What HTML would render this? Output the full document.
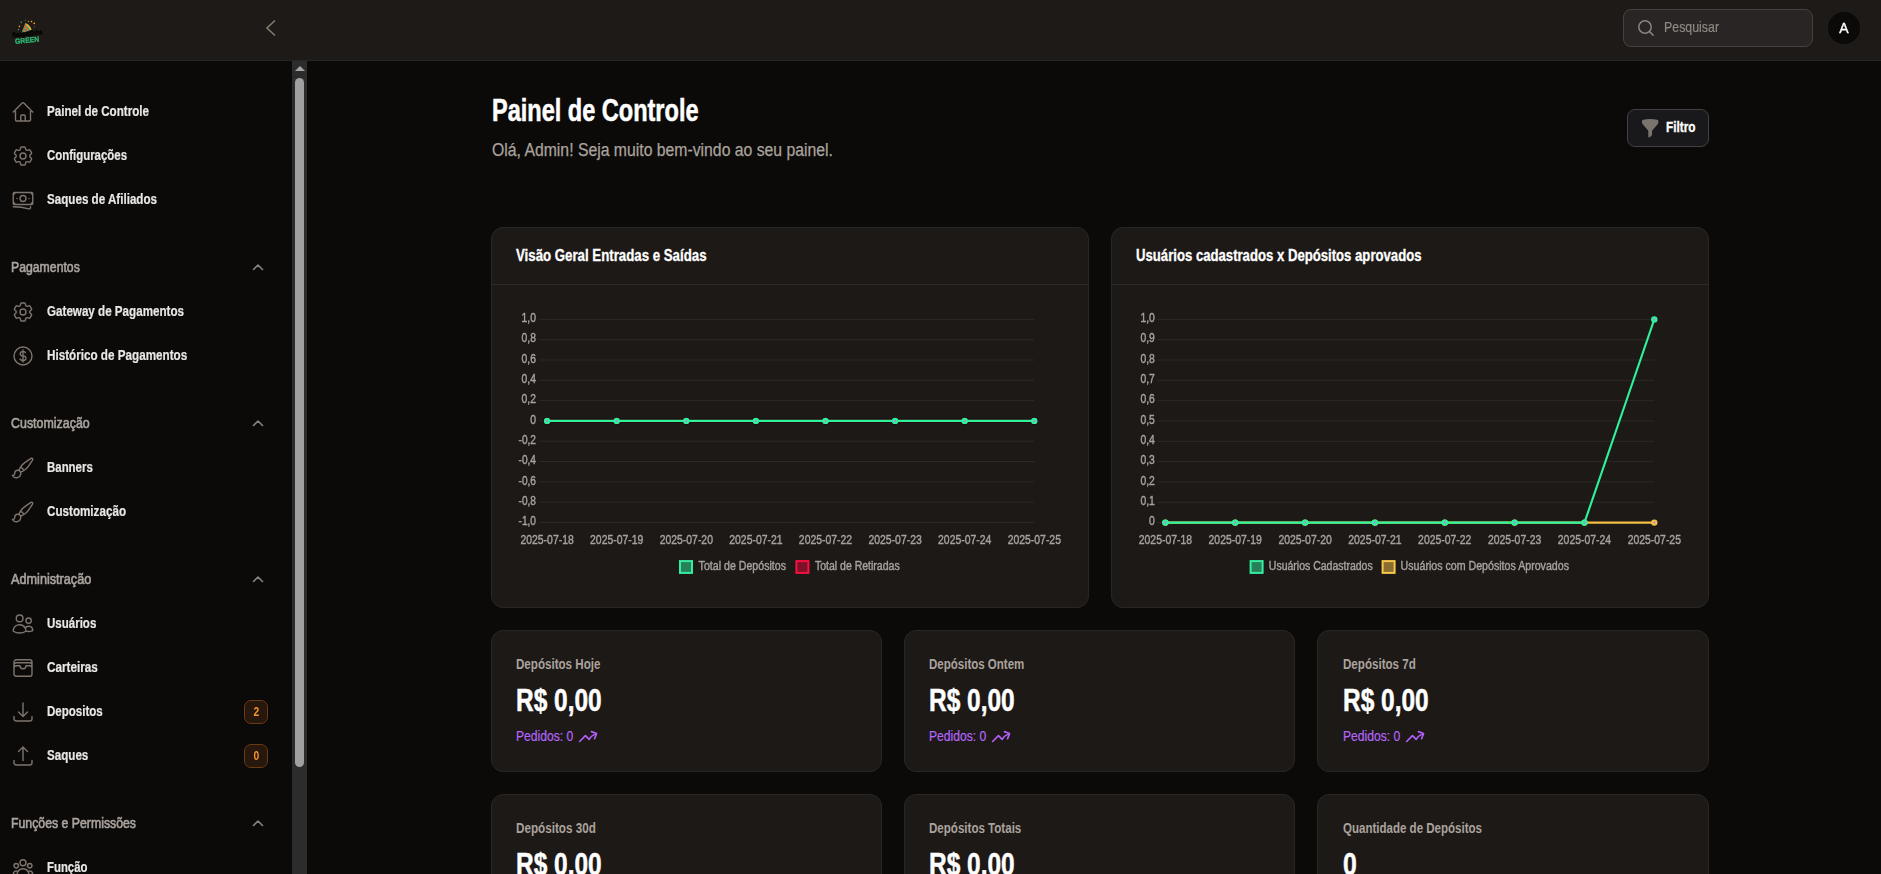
<!DOCTYPE html>
<html lang="pt-BR">
<head>
<meta charset="utf-8">
<title>Painel de Controle</title>
<style>
*{box-sizing:border-box;margin:0;padding:0}
html,body{width:1881px;height:874px;overflow:hidden;background:#0c0a09}
body{font-family:"Liberation Sans",sans-serif;color:#fff;position:relative}
.t{display:inline-block;white-space:nowrap;transform-origin:0 50%}
.t.r{transform-origin:100% 50%}
.t.c{transform-origin:50% 50%}
svg{display:block;overflow:visible}
/* ---------- top bar ---------- */
.topbg{position:absolute;left:0;top:0;width:1881px;height:61px;background:#1e1a17;border-bottom:1px solid #292523}
.topbar{position:absolute;left:0;top:0;width:1881px;height:61px;will-change:transform;z-index:5}
.logo{position:absolute;left:0;top:0}
.collapse{position:absolute;left:263px;top:18px;width:16px;height:20px}
.search{position:absolute;left:1623px;top:9px;width:190px;height:38px;border:1px solid #47423e;border-radius:8px;background:#292524}
.search svg{position:absolute;left:12px;top:8px}
.search .t{position:absolute;left:40px;top:0;line-height:35px;font-size:14.5px;color:#8f8983;-webkit-text-stroke:.2px #8f8983}
.avatar{position:absolute;left:1828px;top:12px;width:32px;height:32px;border-radius:50%;background:#0c0a09;text-align:center;line-height:33px;font-size:14px;font-weight:400;color:#fff;-webkit-text-stroke:.35px #fff}
/* ---------- sidebar ---------- */
.sidebar{position:absolute;left:0;top:61px;width:292px;height:813px;will-change:transform}
.nav{position:absolute;left:0;width:292px;height:44px}
.nav svg{position:absolute;left:11px;top:10.8px;width:24px;height:24px;fill:none;stroke:#7d746d;stroke-width:1.4;stroke-linecap:round;stroke-linejoin:round}
.nav .t{position:absolute;left:47px;top:0;line-height:44px;font-size:14px;font-weight:700;color:#e9e6e4;-webkit-text-stroke:.2px #e9e6e4}
.grp{position:absolute;left:0;width:292px;height:44px}
.grp .t{position:absolute;left:11px;top:0;line-height:44px;font-size:14px;font-weight:400;color:#aaa49f;-webkit-text-stroke:.6px #aaa49f}
.grp svg{position:absolute;left:251px;top:15px;width:14px;height:14px;fill:none;stroke:#8a827c;stroke-width:1.6;stroke-linecap:round;stroke-linejoin:round}
.badge{position:absolute;left:244px;top:11px;width:24px;height:24px;border-radius:7px;background:#27170d;border:1px solid #6a3a14;color:#f59331;font-size:12px;font-weight:700;text-align:center;line-height:22px}
.nav .badge .t{position:static;line-height:22px;font-size:12px;font-weight:700;color:#f59331;-webkit-text-stroke:0;transform-origin:50% 50%}
/* ---------- scrollbar ---------- */
.sb{position:absolute;left:292px;top:61px;width:15px;height:813px;background:#2c2c2c}
.sb i{position:absolute;left:2.5px;top:5px;width:0;height:0;border-left:5px solid transparent;border-right:5px solid transparent;border-bottom:5.5px solid #a5a5a5}
.sb b{position:absolute;left:3px;top:17px;width:9px;height:689px;border-radius:4.5px;background:#a0a0a0}
/* ---------- main ---------- */
.h1{position:absolute;left:492px;top:89.65px;line-height:40px;font-size:31.5px;font-weight:700;color:#fff;-webkit-text-stroke:.55px #fff}
.sub{position:absolute;left:492px;top:136px;line-height:28px;font-size:18px;color:#aaa39d;-webkit-text-stroke:.25px #aaa39d}
.filter{position:absolute;left:1627px;top:109px;width:82px;height:38px;border-radius:8px;background:#19181a;border:1px solid #434144}
.filter svg{position:absolute;left:13.6px;top:8.9px}
.filter .t{position:absolute;left:38.2px;top:0;line-height:35px;font-size:14px;font-weight:700;color:#fff;-webkit-text-stroke:.3px #fff}
.card{position:absolute;background:#1d1917;border:1px solid #2a2624;border-radius:12px}
.card .hd{position:absolute;left:0;top:0;right:0;height:57px;border-bottom:1px solid #2d2927}
.card .hd .t{position:absolute;left:23.5px;top:6px;line-height:44px;font-size:16px;font-weight:700;color:#fff;-webkit-text-stroke:.3px #fff}
.cv{position:absolute;left:-1px;top:-1px;will-change:transform}
.stat .l{position:absolute;left:23.5px;top:22px;line-height:22px;font-size:14px;font-weight:700;color:#aaa39d}
.stat .v{position:absolute;left:23.5px;top:49.1px;line-height:40px;font-size:30.5px;font-weight:700;color:#fff;-webkit-text-stroke:.5px #fff}
.stat .p{position:absolute;left:23.5px;top:94px;line-height:22px;font-size:14px;color:#b466f7;-webkit-text-stroke:.2px #b466f7}
.c2 .t,.c2 svg{margin-left:.4px}
.c3 .t,.c3 svg{margin-left:1px}
.stat svg{position:absolute;left:86.9px;top:100.1px;width:18.2px;height:11.1px}
</style>
</head>
<body>

<div class="topbg"></div>
<header class="topbar">
  <svg class="logo" width="60" height="60" viewBox="0 0 60 60" font-family="Liberation Sans, sans-serif">
    <g transform="translate(21.5 33.1) rotate(47) scale(1.15)">
      <path d="M0 0 L-3.9 -8.3 Q0 -10.2 3.9 -8.3 Z" fill="#2fa86d"/>
      <path d="M-3.9 -8.3 Q0 -10.2 3.9 -8.3 L3.3 -7 Q0 -8.6 -3.3 -7 Z" fill="#f5a623"/>
      <path d="M-2.8 -6 Q0 -7.4 2.8 -6 L2.25 -4.8 Q0 -6 -2.25 -4.8 Z" fill="#ea5f3e"/>
      <path d="M-1.7 -3.6 Q0 -4.6 1.7 -3.6 L1.15 -2.4 Q0 -3.2 -1.15 -2.4 Z" fill="#ea5f3e"/>
      <path d="M-3.9 -8.3 L-2.3 -9.2 L-1.2 -2.6 L0 0 Z" fill="#ea5f3e" opacity=".55"/>
    </g>
    <g fill="#f5a623"><circle cx="19.4" cy="26.4" r="0.8"/><circle cx="28.4" cy="21.3" r="0.6"/><circle cx="31.5" cy="21.5" r="0.8"/><circle cx="34.2" cy="23.3" r="0.9"/></g>
    <g fill="#2fa86d"><path d="M20 22 L21.8 21.2 L21.6 23.6 Z"/><circle cx="25.2" cy="20" r="0.6"/><circle cx="18.5" cy="29.5" r="0.7"/></g>
    <circle cx="34.5" cy="26.6" r="0.6" fill="#b33a22"/><circle cx="34" cy="28.8" r="0.8" fill="#14301f"/>
    <g transform="rotate(-6 27 34)">
      <text x="12.3" y="35.8" font-size="6.6" font-weight="700" fill="#15110f" stroke="#040302" stroke-width=".55" textLength="30" lengthAdjust="spacingAndGlyphs">Raspadinha</text>
      <text x="14.3" y="42.7" font-size="7.4" font-weight="700" fill="#2eb872" stroke="#2eb872" stroke-width=".3" textLength="24.2" lengthAdjust="spacingAndGlyphs">GREEN</text>
    </g>
  </svg>
  <svg class="collapse" viewBox="0 0 16 20" fill="none" stroke="#80786f" stroke-width="1.7" stroke-linecap="butt" stroke-linejoin="miter"><path d="M12 2.5 L4 10 L12 17.5"/></svg>
  <div class="search">
    <svg width="20" height="20" viewBox="0 0 20 20" fill="none" stroke="#8a837d" stroke-width="1.5" stroke-linecap="round"><circle cx="9" cy="9" r="6.2"/><path d="M13.6 13.6 L17.2 17.2"/></svg>
    <span class="t" style="transform:scaleX(0.8529)">Pesquisar</span>
  </div>
  <div class="avatar">A</div>
</header>

<aside class="sidebar">
  <a class="nav" style="top:28px"><svg viewBox="0 0 24 24"><path d="M2.25 12l8.954-8.955c.44-.439 1.152-.439 1.591 0L21.75 12M4.5 9.75v10.125c0 .621.504 1.125 1.125 1.125H9.75v-4.875c0-.621.504-1.125 1.125-1.125h2.25c.621 0 1.125.504 1.125 1.125V21h4.125c.621 0 1.125-.504 1.125-1.125V9.75M8.25 21h8.25"/></svg><span class="t" style="transform:scaleX(0.8298)">Painel de Controle</span></a>
  <a class="nav" style="top:72px"><svg viewBox="0 0 24 24"><path d="M9.594 3.94c.09-.542.56-.94 1.11-.94h2.593c.55 0 1.02.398 1.11.94l.213 1.281c.063.374.313.686.645.87.074.04.147.083.22.127.324.196.72.257 1.075.124l1.217-.456a1.125 1.125 0 011.37.49l1.296 2.247a1.125 1.125 0 01-.26 1.431l-1.003.827c-.293.24-.438.613-.431.992a6.759 6.759 0 010 .255c-.007.378.138.75.43.99l1.005.828c.424.35.534.954.26 1.43l-1.298 2.247a1.125 1.125 0 01-1.369.491l-1.217-.456c-.355-.133-.75-.072-1.076.124a6.57 6.57 0 01-.22.128c-.331.183-.581.495-.644.869l-.213 1.28c-.09.543-.56.941-1.11.941h-2.594c-.55 0-1.02-.398-1.11-.94l-.213-1.281c-.062-.374-.312-.686-.644-.87a6.52 6.52 0 01-.22-.127c-.325-.196-.72-.257-1.076-.124l-1.217.456a1.125 1.125 0 01-1.369-.49l-1.297-2.247a1.125 1.125 0 01.26-1.431l1.004-.827c.292-.24.437-.613.43-.992a6.932 6.932 0 010-.255c.007-.378-.138-.75-.43-.99l-1.004-.828a1.125 1.125 0 01-.26-1.43l1.297-2.247a1.125 1.125 0 011.37-.491l1.216.456c.356.133.751.072 1.076-.124.072-.044.146-.087.22-.128.332-.183.582-.495.644-.869l.214-1.281z"/><path d="M15 12a3 3 0 11-6 0 3 3 0 016 0z"/></svg><span class="t" style="transform:scaleX(0.8162)">Configurações</span></a>
  <a class="nav" style="top:116px"><svg viewBox="0 0 24 24"><path d="M2.25 18.75a60.07 60.07 0 0115.797 2.101c.727.198 1.453-.342 1.453-1.096V18.75M3.75 4.5v.75A.75.75 0 013 6h-.75m0 0v-.375c0-.621.504-1.125 1.125-1.125H20.25M2.25 6v9m18-10.5v.75c0 .414.336.75.75.75h.75m-1.5-1.5h.375c.621 0 1.125.504 1.125 1.125v9.75c0 .621-.504 1.125-1.125 1.125h-.375m1.5-1.5H21a.75.75 0 00-.75.75v.75m0 0H3.75m0 0h-.375a1.125 1.125 0 01-1.125-1.125V15m1.5 1.5v-.75A.75.75 0 003 15h-.75M15 10.5a3 3 0 11-6 0 3 3 0 016 0zm3 0h.008v.008H18V10.5zm-12 0h.008v.008H6V10.5z"/></svg><span class="t" style="transform:scaleX(0.8301)">Saques de Afiliados</span></a>
  <div class="grp" style="top:184px"><span class="t" style="transform:scaleX(0.8752)">Pagamentos</span><svg viewBox="0 0 14 14"><path d="M2.5 9.5 L7 5 L11.5 9.5"/></svg></div>
  <a class="nav" style="top:228px"><svg viewBox="0 0 24 24"><path d="M9.594 3.94c.09-.542.56-.94 1.11-.94h2.593c.55 0 1.02.398 1.11.94l.213 1.281c.063.374.313.686.645.87.074.04.147.083.22.127.324.196.72.257 1.075.124l1.217-.456a1.125 1.125 0 011.37.49l1.296 2.247a1.125 1.125 0 01-.26 1.431l-1.003.827c-.293.24-.438.613-.431.992a6.759 6.759 0 010 .255c-.007.378.138.75.43.99l1.005.828c.424.35.534.954.26 1.43l-1.298 2.247a1.125 1.125 0 01-1.369.491l-1.217-.456c-.355-.133-.75-.072-1.076.124a6.57 6.57 0 01-.22.128c-.331.183-.581.495-.644.869l-.213 1.28c-.09.543-.56.941-1.11.941h-2.594c-.55 0-1.02-.398-1.11-.94l-.213-1.281c-.062-.374-.312-.686-.644-.87a6.52 6.52 0 01-.22-.127c-.325-.196-.72-.257-1.076-.124l-1.217.456a1.125 1.125 0 01-1.369-.49l-1.297-2.247a1.125 1.125 0 01.26-1.431l1.004-.827c.292-.24.437-.613.43-.992a6.932 6.932 0 010-.255c.007-.378-.138-.75-.43-.99l-1.004-.828a1.125 1.125 0 01-.26-1.43l1.297-2.247a1.125 1.125 0 011.37-.491l1.216.456c.356.133.751.072 1.076-.124.072-.044.146-.087.22-.128.332-.183.582-.495.644-.869l.214-1.281z"/><path d="M15 12a3 3 0 11-6 0 3 3 0 016 0z"/></svg><span class="t" style="transform:scaleX(0.8305)">Gateway de Pagamentos</span></a>
  <a class="nav" style="top:272px"><svg viewBox="0 0 24 24"><path d="M12 6v12m-3-2.818l.879.659c1.171.879 3.07.879 4.242 0 1.172-.879 1.172-2.303 0-3.182C13.536 12.219 12.768 12 12 12c-.725 0-1.45-.22-2.003-.659-1.106-.879-1.106-2.303 0-3.182s2.9-.879 4.006 0l.415.33M21 12a9 9 0 11-18 0 9 9 0 0118 0z"/></svg><span class="t" style="transform:scaleX(0.8343)">Histórico de Pagamentos</span></a>
  <div class="grp" style="top:340px"><span class="t" style="transform:scaleX(0.8872)">Customização</span><svg viewBox="0 0 14 14"><path d="M2.5 9.5 L7 5 L11.5 9.5"/></svg></div>
  <a class="nav" style="top:384px"><svg viewBox="0 0 24 24"><path d="M9.53 16.122a3 3 0 00-5.78 1.128 2.25 2.25 0 01-2.4 2.245 4.5 4.5 0 008.4-2.245c0-.399-.078-.78-.22-1.128zm0 0a15.998 15.998 0 003.388-1.62m-5.043-.025a15.994 15.994 0 011.622-3.395m3.42 3.42a15.995 15.995 0 004.764-4.648l3.876-5.814a1.151 1.151 0 00-1.597-1.597L14.146 6.32a15.996 15.996 0 00-4.649 4.763m3.42 3.42a6.776 6.776 0 00-3.42-3.42"/></svg><span class="t" style="transform:scaleX(0.8174)">Banners</span></a>
  <a class="nav" style="top:428px"><svg viewBox="0 0 24 24"><path d="M9.53 16.122a3 3 0 00-5.78 1.128 2.25 2.25 0 01-2.4 2.245 4.5 4.5 0 008.4-2.245c0-.399-.078-.78-.22-1.128zm0 0a15.998 15.998 0 003.388-1.62m-5.043-.025a15.994 15.994 0 011.622-3.395m3.42 3.42a15.995 15.995 0 004.764-4.648l3.876-5.814a1.151 1.151 0 00-1.597-1.597L14.146 6.32a15.996 15.996 0 00-4.649 4.763m3.42 3.42a6.776 6.776 0 00-3.42-3.42"/></svg><span class="t" style="transform:scaleX(0.8323)">Customização</span></a>
  <div class="grp" style="top:496px"><span class="t" style="transform:scaleX(0.9053)">Administração</span><svg viewBox="0 0 14 14"><path d="M2.5 9.5 L7 5 L11.5 9.5"/></svg></div>
  <a class="nav" style="top:540px"><svg viewBox="0 0 24 24"><path d="M15 19.128a9.38 9.38 0 002.625.372 9.337 9.337 0 004.121-.952 4.125 4.125 0 00-7.533-2.493M15 19.128v-.003c0-1.113-.285-2.16-.786-3.07M15 19.128v.106A12.318 12.318 0 018.624 21c-2.331 0-4.512-.645-6.374-1.766l-.001-.109a6.375 6.375 0 0111.964-3.07M12 6.375a3.375 3.375 0 11-6.75 0 3.375 3.375 0 016.75 0zm8.25 2.25a2.625 2.625 0 11-5.25 0 2.625 2.625 0 015.25 0z"/></svg><span class="t" style="transform:scaleX(0.8227)">Usuários</span></a>
  <a class="nav" style="top:584px"><svg viewBox="0 0 24 24"><path d="M21 12a2.25 2.25 0 00-2.25-2.25H15a3 3 0 11-6 0H5.25A2.25 2.25 0 003 12m18 0v6a2.25 2.25 0 01-2.25 2.25H5.25A2.25 2.25 0 013 18v-6m18 0V9M3 12V9m18 0a2.25 2.25 0 00-2.25-2.25H5.25A2.25 2.25 0 003 9m18 0V6a2.25 2.25 0 00-2.25-2.25H5.25A2.25 2.25 0 003 6v3"/></svg><span class="t" style="transform:scaleX(0.8385)">Carteiras</span></a>
  <a class="nav" style="top:628px"><svg viewBox="0 0 24 24"><path d="M3 16.5v2.25A2.25 2.25 0 005.25 21h13.5A2.25 2.25 0 0021 18.75V16.5M16.5 12L12 16.5m0 0L7.5 12m4.5 4.5V3"/></svg><span class="t" style="transform:scaleX(0.8244)">Depositos</span><span class="badge"><span class="t" style="transform:scaleX(.86)">2</span></span></a>
  <a class="nav" style="top:672px"><svg viewBox="0 0 24 24"><path d="M3 16.5v2.25A2.25 2.25 0 005.25 21h13.5A2.25 2.25 0 0021 18.75V16.5m-13.5-9L12 3m0 0l4.5 4.5M12 3v13.5"/></svg><span class="t" style="transform:scaleX(0.8291)">Saques</span><span class="badge"><span class="t" style="transform:scaleX(.86)">0</span></span></a>
  <div class="grp" style="top:740px"><span class="t" style="transform:scaleX(0.8778)">Funções e Permissões</span><svg viewBox="0 0 14 14"><path d="M2.5 9.5 L7 5 L11.5 9.5"/></svg></div>
  <a class="nav" style="top:784px"><svg viewBox="0 0 24 24"><path d="M18 18.72a9.094 9.094 0 003.741-.479 3 3 0 00-4.682-2.72m.94 3.198l.001.031c0 .225-.012.447-.037.666A11.944 11.944 0 0112 21c-2.17 0-4.207-.576-5.963-1.584A6.062 6.062 0 016 18.719m12 0a5.971 5.971 0 00-.941-3.197m0 0A5.995 5.995 0 0012 12.75a5.995 5.995 0 00-5.058 2.772m0 0a3 3 0 00-4.681 2.72 8.986 8.986 0 003.74.477m.94-3.197a5.971 5.971 0 00-.94 3.197M15 6.75a3 3 0 11-6 0 3 3 0 016 0zm6 3a2.25 2.25 0 11-4.5 0 2.25 2.25 0 014.5 0zm-13.5 0a2.25 2.25 0 11-4.5 0 2.25 2.25 0 014.5 0z"/></svg><span class="t" style="transform:scaleX(0.8136)">Função</span></a>
</aside>

<div class="sb"><i></i><b></b></div>

<main>
  <h1 class="h1"><span class="t" style="transform:scaleX(0.7467)">Painel de Controle</span></h1>
  <p class="sub"><span class="t" style="transform:scaleX(0.8761)">Olá, Admin! Seja muito bem-vindo ao seu painel.</span></p>
  <div class="filter">
    <svg width="16.4" height="18.3" viewBox="2.25 2.25 19.5 19.5" preserveAspectRatio="none"><path fill="#7b746e" d="M3.792 2.938A49.069 49.069 0 0112 2.25c2.797 0 5.54.236 8.209.688a1.857 1.857 0 011.541 1.836v1.044a3 3 0 01-.879 2.121l-6.182 6.182a1.5 1.5 0 00-.439 1.061v2.927a3 3 0 01-1.658 2.684l-1.757.878A.75.75 0 019.75 21v-5.818a1.5 1.5 0 00-.44-1.06L3.13 7.938a3 3 0 01-.879-2.121V4.774c0-.897.64-1.683 1.542-1.836z"/></svg>
    <span class="t" style="transform:scaleX(0.8429)">Filtro</span>
  </div>
<!--CH-->
<section class="card" style="left:491px;top:227px;width:598px;height:381px">
  <div class="hd"><span class="t" style="transform:scaleX(0.8281)">Visão Geral Entradas e Saídas</span></div>
  <svg class="cv" width="598" height="381" viewBox="491 227 598 381" font-family="Liberation Sans, sans-serif" font-size="12" fill="#a8a29e" stroke="#a8a29e" stroke-width=".4">
    <path d="M539.1 319.40H1034.3M539.1 339.70H1034.3M539.1 360.00H1034.3M539.1 380.30H1034.3M539.1 400.60H1034.3M539.1 420.90H1034.3M539.1 441.20H1034.3M539.1 461.50H1034.3M539.1 481.80H1034.3M539.1 502.10H1034.3M539.1 522.40H1034.3" stroke="#2d2927" stroke-width="1" fill="none"/>
    <text x="536.0" y="322.10" text-anchor="end" textLength="14.4" lengthAdjust="spacingAndGlyphs">1,0</text>
    <text x="536.0" y="342.40" text-anchor="end" textLength="14.4" lengthAdjust="spacingAndGlyphs">0,8</text>
    <text x="536.0" y="362.70" text-anchor="end" textLength="14.4" lengthAdjust="spacingAndGlyphs">0,6</text>
    <text x="536.0" y="383.00" text-anchor="end" textLength="14.4" lengthAdjust="spacingAndGlyphs">0,4</text>
    <text x="536.0" y="403.30" text-anchor="end" textLength="14.4" lengthAdjust="spacingAndGlyphs">0,2</text>
    <text x="536.0" y="423.60" text-anchor="end" textLength="5.8" lengthAdjust="spacingAndGlyphs">0</text>
    <text x="536.0" y="443.90" text-anchor="end" textLength="17.5" lengthAdjust="spacingAndGlyphs">-0,2</text>
    <text x="536.0" y="464.20" text-anchor="end" textLength="17.5" lengthAdjust="spacingAndGlyphs">-0,4</text>
    <text x="536.0" y="484.50" text-anchor="end" textLength="17.5" lengthAdjust="spacingAndGlyphs">-0,6</text>
    <text x="536.0" y="504.80" text-anchor="end" textLength="17.5" lengthAdjust="spacingAndGlyphs">-0,8</text>
    <text x="536.0" y="525.10" text-anchor="end" textLength="17.5" lengthAdjust="spacingAndGlyphs">-1,0</text>
    <text x="547.10" y="544" text-anchor="middle" textLength="53.3" lengthAdjust="spacingAndGlyphs">2025-07-18</text>
    <text x="616.70" y="544" text-anchor="middle" textLength="53.3" lengthAdjust="spacingAndGlyphs">2025-07-19</text>
    <text x="686.30" y="544" text-anchor="middle" textLength="53.3" lengthAdjust="spacingAndGlyphs">2025-07-20</text>
    <text x="755.90" y="544" text-anchor="middle" textLength="53.3" lengthAdjust="spacingAndGlyphs">2025-07-21</text>
    <text x="825.50" y="544" text-anchor="middle" textLength="53.3" lengthAdjust="spacingAndGlyphs">2025-07-22</text>
    <text x="895.10" y="544" text-anchor="middle" textLength="53.3" lengthAdjust="spacingAndGlyphs">2025-07-23</text>
    <text x="964.70" y="544" text-anchor="middle" textLength="53.3" lengthAdjust="spacingAndGlyphs">2025-07-24</text>
    <text x="1034.30" y="544" text-anchor="middle" textLength="53.3" lengthAdjust="spacingAndGlyphs">2025-07-25</text>
    <polyline points="547.10,420.90 616.70,420.90 686.30,420.90 755.90,420.90 825.50,420.90 895.10,420.90 964.70,420.90 1034.30,420.90" fill="none" stroke="#24090f" stroke-width="4.2" stroke-linejoin="round"/>
    <g fill="#24090f" stroke="none"><circle cx="547.10" cy="420.90" r="3.9"/><circle cx="616.70" cy="420.90" r="3.9"/><circle cx="686.30" cy="420.90" r="3.9"/><circle cx="755.90" cy="420.90" r="3.9"/><circle cx="825.50" cy="420.90" r="3.9"/><circle cx="895.10" cy="420.90" r="3.9"/><circle cx="964.70" cy="420.90" r="3.9"/><circle cx="1034.30" cy="420.90" r="3.9"/></g>
    <polyline points="547.10,420.90 616.70,420.90 686.30,420.90 755.90,420.90 825.50,420.90 895.10,420.90 964.70,420.90 1034.30,420.90" fill="none" stroke="#2ff39b" stroke-width="2.1" stroke-linejoin="round"/>
    <g fill="#c272ff" stroke="#2ff39b" stroke-width="2.2"><circle cx="547.10" cy="420.90" r="2.1"/><circle cx="616.70" cy="420.90" r="2.1"/><circle cx="686.30" cy="420.90" r="2.1"/><circle cx="755.90" cy="420.90" r="2.1"/><circle cx="825.50" cy="420.90" r="2.1"/><circle cx="895.10" cy="420.90" r="2.1"/><circle cx="964.70" cy="420.90" r="2.1"/><circle cx="1034.30" cy="420.90" r="2.1"/></g>
    <rect x="680" y="561.1" width="12" height="11.8" fill="#27805a" stroke="#35efa0" stroke-width="2"/>
    <text x="698.6" y="570.3" textLength="87.4" lengthAdjust="spacingAndGlyphs">Total de Depósitos</text>
    <rect x="796.4" y="561.1" width="12" height="11.8" fill="#7d1129" stroke="#fa0f41" stroke-width="2"/>
    <text x="814.9" y="570.3" textLength="84.8" lengthAdjust="spacingAndGlyphs">Total de Retiradas</text>
  </svg>
</section>
<section class="card" style="left:1111px;top:227px;width:598px;height:381px">
  <div class="hd"><span class="t" style="transform:scaleX(0.8212)">Usuários cadastrados x Depósitos aprovados</span></div>
  <svg class="cv" width="598" height="381" viewBox="1111 227 598 381" font-family="Liberation Sans, sans-serif" font-size="12" fill="#a8a29e" stroke="#a8a29e" stroke-width=".4">
    <path d="M1157.4 319.40H1654.3M1157.4 339.72H1654.3M1157.4 360.04H1654.3M1157.4 380.36H1654.3M1157.4 400.68H1654.3M1157.4 421.00H1654.3M1157.4 441.32H1654.3M1157.4 461.64H1654.3M1157.4 481.96H1654.3M1157.4 502.28H1654.3M1157.4 522.60H1654.3" stroke="#2d2927" stroke-width="1" fill="none"/>
    <text x="1154.8" y="322.10" text-anchor="end" textLength="14.4" lengthAdjust="spacingAndGlyphs">1,0</text>
    <text x="1154.8" y="342.42" text-anchor="end" textLength="14.4" lengthAdjust="spacingAndGlyphs">0,9</text>
    <text x="1154.8" y="362.74" text-anchor="end" textLength="14.4" lengthAdjust="spacingAndGlyphs">0,8</text>
    <text x="1154.8" y="383.06" text-anchor="end" textLength="14.4" lengthAdjust="spacingAndGlyphs">0,7</text>
    <text x="1154.8" y="403.38" text-anchor="end" textLength="14.4" lengthAdjust="spacingAndGlyphs">0,6</text>
    <text x="1154.8" y="423.70" text-anchor="end" textLength="14.4" lengthAdjust="spacingAndGlyphs">0,5</text>
    <text x="1154.8" y="444.02" text-anchor="end" textLength="14.4" lengthAdjust="spacingAndGlyphs">0,4</text>
    <text x="1154.8" y="464.34" text-anchor="end" textLength="14.4" lengthAdjust="spacingAndGlyphs">0,3</text>
    <text x="1154.8" y="484.66" text-anchor="end" textLength="14.4" lengthAdjust="spacingAndGlyphs">0,2</text>
    <text x="1154.8" y="504.98" text-anchor="end" textLength="14.4" lengthAdjust="spacingAndGlyphs">0,1</text>
    <text x="1154.8" y="525.30" text-anchor="end" textLength="5.8" lengthAdjust="spacingAndGlyphs">0</text>
    <text x="1165.40" y="544" text-anchor="middle" textLength="53.3" lengthAdjust="spacingAndGlyphs">2025-07-18</text>
    <text x="1235.24" y="544" text-anchor="middle" textLength="53.3" lengthAdjust="spacingAndGlyphs">2025-07-19</text>
    <text x="1305.09" y="544" text-anchor="middle" textLength="53.3" lengthAdjust="spacingAndGlyphs">2025-07-20</text>
    <text x="1374.93" y="544" text-anchor="middle" textLength="53.3" lengthAdjust="spacingAndGlyphs">2025-07-21</text>
    <text x="1444.77" y="544" text-anchor="middle" textLength="53.3" lengthAdjust="spacingAndGlyphs">2025-07-22</text>
    <text x="1514.61" y="544" text-anchor="middle" textLength="53.3" lengthAdjust="spacingAndGlyphs">2025-07-23</text>
    <text x="1584.46" y="544" text-anchor="middle" textLength="53.3" lengthAdjust="spacingAndGlyphs">2025-07-24</text>
    <text x="1654.30" y="544" text-anchor="middle" textLength="53.3" lengthAdjust="spacingAndGlyphs">2025-07-25</text>
    <polyline points="1165.40,522.60 1235.24,522.60 1305.09,522.60 1374.93,522.60 1444.77,522.60 1514.61,522.60 1584.46,522.60 1654.30,522.60" fill="none" stroke="#f3c045" stroke-width="2.1" stroke-linejoin="round"/>
    <g fill="#c272ff" stroke="#f3c045" stroke-width="2.2"><circle cx="1165.40" cy="522.60" r="2.1"/><circle cx="1235.24" cy="522.60" r="2.1"/><circle cx="1305.09" cy="522.60" r="2.1"/><circle cx="1374.93" cy="522.60" r="2.1"/><circle cx="1444.77" cy="522.60" r="2.1"/><circle cx="1514.61" cy="522.60" r="2.1"/><circle cx="1584.46" cy="522.60" r="2.1"/><circle cx="1654.30" cy="522.60" r="2.1"/></g>
    <polyline points="1165.40,522.60 1235.24,522.60 1305.09,522.60 1374.93,522.60 1444.77,522.60 1514.61,522.60 1584.46,522.60 1654.30,319.40" fill="none" stroke="#2ff39b" stroke-width="2.1" stroke-linejoin="round"/>
    <g fill="#c272ff" stroke="#2ff39b" stroke-width="2.2"><circle cx="1165.40" cy="522.60" r="2.1"/><circle cx="1235.24" cy="522.60" r="2.1"/><circle cx="1305.09" cy="522.60" r="2.1"/><circle cx="1374.93" cy="522.60" r="2.1"/><circle cx="1444.77" cy="522.60" r="2.1"/><circle cx="1514.61" cy="522.60" r="2.1"/><circle cx="1584.46" cy="522.60" r="2.1"/><circle cx="1654.30" cy="319.40" r="2.1"/></g>
    <rect x="1250.6" y="561.1" width="12" height="11.8" fill="#27805a" stroke="#35efa0" stroke-width="2"/>
    <text x="1268.8" y="570.3" textLength="103.9" lengthAdjust="spacingAndGlyphs">Usuários Cadastrados</text>
    <rect x="1382.6" y="561.1" width="12" height="11.8" fill="#8a6d30" stroke="#f7c64b" stroke-width="2"/>
    <text x="1400.6" y="570.3" textLength="168.4" lengthAdjust="spacingAndGlyphs">Usuários com Depósitos Aprovados</text>
  </svg>
</section>
<!--/CH-->
<section class="card stat" style="left:491px;top:630px;width:391px;height:142px"><span class="t l" style="transform:scaleX(0.8282)">Depósitos Hoje</span><span class="t v" style="transform:scaleX(0.8022)">R$ 0,00</span><span class="t p" style="transform:scaleX(0.8659)">Pedidos: 0</span><svg viewBox="1.5 5.8 21.1 12.95" preserveAspectRatio="none" fill="none" stroke="#b35ffa" stroke-width="1.9" stroke-linecap="round" stroke-linejoin="round"><path d="M2.25 18L9 11.25l4.306 4.307a11.95 11.95 0 015.814-5.519l2.74-1.22m0 0l-5.94-2.28m5.94 2.28l-2.28 5.941"/></svg></section>
<section class="card stat c2" style="left:904px;top:630px;width:391px;height:142px"><span class="t l" style="transform:scaleX(0.8222)">Depósitos Ontem</span><span class="t v" style="transform:scaleX(0.8022)">R$ 0,00</span><span class="t p" style="transform:scaleX(0.8659)">Pedidos: 0</span><svg viewBox="1.5 5.8 21.1 12.95" preserveAspectRatio="none" fill="none" stroke="#b35ffa" stroke-width="1.9" stroke-linecap="round" stroke-linejoin="round"><path d="M2.25 18L9 11.25l4.306 4.307a11.95 11.95 0 015.814-5.519l2.74-1.22m0 0l-5.94-2.28m5.94 2.28l-2.28 5.941"/></svg></section>
<section class="card stat c3" style="left:1317px;top:630px;width:392px;height:142px"><span class="t l" style="transform:scaleX(0.8282)">Depósitos 7d</span><span class="t v" style="transform:scaleX(0.8022)">R$ 0,00</span><span class="t p" style="transform:scaleX(0.8659)">Pedidos: 0</span><svg viewBox="1.5 5.8 21.1 12.95" preserveAspectRatio="none" fill="none" stroke="#b35ffa" stroke-width="1.9" stroke-linecap="round" stroke-linejoin="round"><path d="M2.25 18L9 11.25l4.306 4.307a11.95 11.95 0 015.814-5.519l2.74-1.22m0 0l-5.94-2.28m5.94 2.28l-2.28 5.941"/></svg></section>
<section class="card stat" style="left:491px;top:794px;width:391px;height:142px"><span class="t l" style="transform:scaleX(0.8338)">Depósitos 30d</span><span class="t v" style="transform:scaleX(0.8022)">R$ 0,00</span><span class="t p" style="transform:scaleX(0.8659)">Pedidos: 0</span><svg viewBox="1.5 5.8 21.1 12.95" preserveAspectRatio="none" fill="none" stroke="#b35ffa" stroke-width="1.9" stroke-linecap="round" stroke-linejoin="round"><path d="M2.25 18L9 11.25l4.306 4.307a11.95 11.95 0 015.814-5.519l2.74-1.22m0 0l-5.94-2.28m5.94 2.28l-2.28 5.941"/></svg></section>
<section class="card stat c2" style="left:904px;top:794px;width:391px;height:142px"><span class="t l" style="transform:scaleX(0.8258)">Depósitos Totais</span><span class="t v" style="transform:scaleX(0.8022)">R$ 0,00</span><span class="t p" style="transform:scaleX(0.8659)">Pedidos: 0</span><svg viewBox="1.5 5.8 21.1 12.95" preserveAspectRatio="none" fill="none" stroke="#b35ffa" stroke-width="1.9" stroke-linecap="round" stroke-linejoin="round"><path d="M2.25 18L9 11.25l4.306 4.307a11.95 11.95 0 015.814-5.519l2.74-1.22m0 0l-5.94-2.28m5.94 2.28l-2.28 5.941"/></svg></section>
<section class="card stat c3" style="left:1317px;top:794px;width:392px;height:142px"><span class="t l" style="transform:scaleX(0.8234)">Quantidade de Depósitos</span><span class="t v" style="transform:scaleX(0.8133)">0</span></section>
</main>

</body>
</html>
